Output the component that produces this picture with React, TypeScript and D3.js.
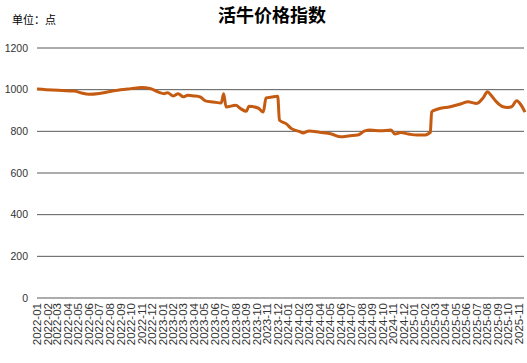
import React from "react";
import * as d3 from "d3";

const TITLE = "活牛价格指数";
const UNIT = "单位：点";
const yTicks = [0, 200, 400, 600, 800, 1000, 1200];

const dates = [
  "2022-01-01", "2022-02-15", "2022-03-15", "2022-04-20", "2022-05-10", "2022-06-01",
  "2022-07-01", "2022-08-01", "2022-09-01", "2022-10-01", "2022-11-01", "2022-11-25",
  "2022-12-20", "2023-01-05", "2023-01-15", "2023-02-01", "2023-02-15", "2023-03-01",
  "2023-03-15", "2023-04-01", "2023-04-20", "2023-05-05", "2023-05-28", "2023-06-20",
  "2023-06-27", "2023-07-04", "2023-08-01", "2023-08-15", "2023-09-01", "2023-09-08",
  "2023-10-05", "2023-10-20", "2023-10-28", "2023-11-15", "2023-12-01", "2023-12-06",
  "2023-12-25", "2024-01-10", "2024-02-05", "2024-02-12", "2024-03-01", "2024-04-01",
  "2024-05-05", "2024-06-01", "2024-06-28", "2024-07-20", "2024-08-10", "2024-08-25",
  "2024-09-25", "2024-10-25", "2024-11-05", "2024-11-22", "2024-12-15", "2025-01-08",
  "2025-02-01", "2025-02-12", "2025-02-16", "2025-02-20", "2025-03-08", "2025-04-15",
  "2025-05-20", "2025-06-05", "2025-07-01", "2025-07-20", "2025-08-01", "2025-08-12",
  "2025-08-28", "2025-09-15", "2025-09-28", "2025-10-10", "2025-10-25", "2025-11-05",
  "2025-11-18",
];
const values = [
  1003, 998, 996, 993, 984, 978,
  982, 991, 1000, 1005, 1010, 1006,
  988, 981, 985, 970, 981, 966,
  973, 970, 965, 946, 941, 936,
  981, 917, 925, 909, 896, 920,
  912, 893, 960, 965, 968, 853,
  837, 813, 797, 792, 802, 795,
  787, 774, 779, 782, 802, 806,
  803, 806, 787, 794, 787, 782,
  782, 790, 794, 894, 906, 918,
  934, 942, 934, 962, 990, 972,
  940, 918, 915, 918, 947, 930,
  892,
];

const W = 527;
const H = 363;

export default function App() {
  const parse = d3.timeParse("%Y-%m-%d");
  const data = dates.map((d, i) => ({ date: parse(d) as Date, value: values[i] }));
  const x = d3
    .scaleTime()
    .domain([new Date(2022, 0, 1), new Date(2025, 10, 18)])
    .range([37, 525]);
  const y = d3.scaleLinear().domain([0, 1200]).range([298, 48]);
  const months = d3.timeMonth.range(new Date(2022, 0, 1), new Date(2025, 10, 2));
  const fmt = d3.timeFormat("%Y-%m");
  const line = d3
    .line<{ date: Date; value: number }>()
    .x((d) => x(d.date))
    .y((d) => y(d.value))
    .curve(d3.curveMonotoneX);

  return (
    <svg
      width={W}
      height={H}
      style={{ position: "absolute", left: 0, top: 0, background: "#fff" }}
      fontFamily="'Liberation Sans', Arial, sans-serif"
    >
      <text
        x={272}
        y={22}
        textAnchor="middle"
        fontSize={18}
        fontWeight="bold"
        fontFamily="'Noto Sans CJK SC', sans-serif"
        fill="#000"
      >
        {TITLE}
      </text>
      <text x={12} y={24} fontSize={11} fontFamily="'Noto Sans CJK SC', sans-serif" fill="#000">
        {UNIT}
      </text>
      {yTicks.map((t) => (
        <g key={t}>
          <line x1={37} x2={524} y1={y(t)} y2={y(t)} stroke="#595959" strokeWidth={1} />
          <text x={28} y={y(t) + 3.5} textAnchor="end" fontSize={10.5} fill="#333">
            {t}
          </text>
        </g>
      ))}
      {months.map((m) => (
        <text
          key={fmt(m)}
          transform={`translate(${x(m) + 4},${303}) rotate(-90)`}
          textAnchor="end"
          fontSize={11.5}
          fill="#333"
        >
          {fmt(m)}
        </text>
      ))}
      <path d={line(data) || ""} fill="none" stroke="#C55A11" strokeWidth={3} strokeLinejoin="round" />
    </svg>
  );
}
